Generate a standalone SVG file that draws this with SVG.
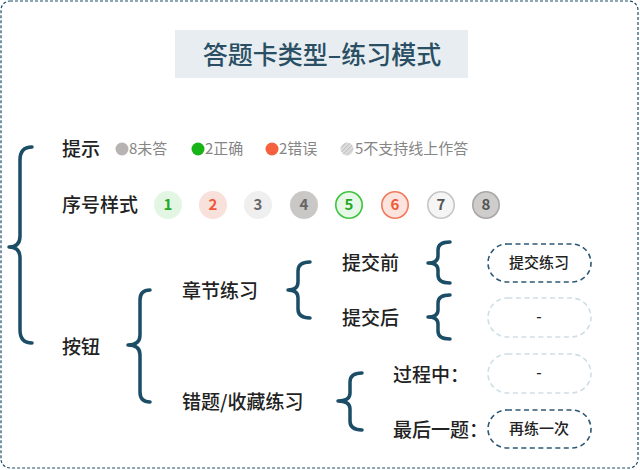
<svg xmlns="http://www.w3.org/2000/svg" width="640" height="470" viewBox="0 0 640 470">
<style>
.t{font-family:"Noto Sans CJK SC","Noto Sans",sans-serif;}
.lbl{font-size:19px;font-weight:500;fill:#222;}
.leg{font-size:15px;fill:#858585;}
.num{font-size:15px;font-weight:700;text-anchor:middle;}
.btn{font-size:15px;font-weight:500;fill:#222;text-anchor:middle;}
.brace{fill:none;stroke:#1c4d66;stroke-width:3.5;stroke-linecap:round;stroke-linejoin:round;}
.pill{fill:#fff;stroke:#2d5874;stroke-width:1.6;stroke-dasharray:5 3.5;}
.pill-l{fill:#fff;stroke:#cfdde5;stroke-width:1.6;stroke-dasharray:5 3.5;}
</style>
<defs>
<pattern id="hatch" patternUnits="userSpaceOnUse" width="3" height="3" patternTransform="rotate(45)">
<rect width="3" height="3" fill="#e6e6e6"/>
<rect width="1.5" height="3" fill="#c4c4c4"/>
</pattern>
</defs>
<rect x="1" y="1" width="637" height="467" rx="9" fill="#fff" stroke="#1d4e68" stroke-width="1.2" stroke-dasharray="3 2"/>
<g id="title">
<rect x="175" y="30" width="293" height="48" fill="#e7edf0"/>
<text class="t" x="322" y="63.5" font-size="25" font-weight="500" fill="#2a4f64" text-anchor="middle">答题卡类型–练习模式</text>
</g>
<g id="connectors">
<path class="brace" d="M32,147 Q20,147 20,160 L20,236 Q20,247 9,247 Q20,247 20,258 L20,330 Q20,343 32,343"/>
<path class="brace" d="M150,290 Q140,290 140,300 L140,335 Q140,345 128,345 Q140,345 140,355 L140,392 Q140,402 150,402"/>
<path class="brace" d="M310,262 Q298,262 298,271 L298,282 Q298,290 288,290 Q298,290 298,298 L298,309 Q298,318 310,318"/>
<path class="brace" d="M450,242 Q438,242 438,250 L438,256 Q438,263 428,263 Q438,263 438,270 L438,275 Q438,283 450,283"/>
<path class="brace" d="M450,295 Q438,295 438,303 L438,310 Q438,317 428,317 Q438,317 438,324 L438,331 Q438,339 450,339"/>
<path class="brace" d="M362,373 Q350,373 350,382 L350,393 Q350,401 338,401 Q350,401 350,409 L350,421 Q350,430 362,430"/>
</g>
<g id="tips">
<text class="t lbl" x="62" y="156">提示</text>
<circle cx="122" cy="149" r="6.5" fill="#b8b3b3"/>
<text class="t leg" x="129" y="154">8未答</text>
<circle cx="198" cy="149" r="6.5" fill="#17b317"/>
<text class="t leg" x="205" y="154">2正确</text>
<circle cx="272" cy="149" r="6.5" fill="#f5603e"/>
<text class="t leg" x="279" y="154">2错误</text>
<circle cx="347" cy="149" r="6.5" fill="url(#hatch)"/>
<text class="t leg" x="355" y="154">5不支持线上作答</text>
</g>
<g id="styles">
<text class="t lbl" x="62" y="212">序号样式</text>
<circle cx="168" cy="205" r="14" fill="#e3f6e3"/>
<text class="t num" x="168" y="210" fill="#25a825">1</text>
<circle cx="213" cy="205" r="14" fill="#f8e1da"/>
<text class="t num" x="213" y="210" fill="#f0583a">2</text>
<circle cx="258" cy="205" r="14" fill="#efefef"/>
<text class="t num" x="258" y="210" fill="#666">3</text>
<circle cx="304" cy="205" r="14" fill="#cac7c7"/>
<text class="t num" x="304" y="210" fill="#666">4</text>
<circle cx="349" cy="205" r="13.2" fill="#e8f8e8" stroke="#3cc43c" stroke-width="1.6"/>
<text class="t num" x="349" y="210" fill="#25a825">5</text>
<circle cx="395" cy="205" r="13.2" fill="#fbe4de" stroke="#f2795c" stroke-width="1.6"/>
<text class="t num" x="395" y="210" fill="#f0583a">6</text>
<circle cx="441" cy="205" r="13.2" fill="#f5f5f5" stroke="#c6c6c6" stroke-width="1.6"/>
<text class="t num" x="441" y="210" fill="#555">7</text>
<circle cx="486" cy="205" r="13.2" fill="#cfcccc" stroke="#a9a6a6" stroke-width="1.6"/>
<text class="t num" x="486" y="210" fill="#555">8</text>
</g>
<g id="buttons">
<text class="t lbl" x="62" y="354">按钮</text>
</g>
<g id="chapter">
<text class="t lbl" x="182" y="298">章节练习</text>
</g>
<g id="wrong">
<text class="t lbl" x="182" y="409">错题/收藏练习</text>
</g>
<g id="before">
<text class="t lbl" x="342" y="270">提交前</text>
<rect class="pill" x="488" y="244" width="103" height="38" rx="19"/>
<text class="t btn" x="539" y="268">提交练习</text>
</g>
<g id="after">
<text class="t lbl" x="342" y="325">提交后</text>
<rect class="pill-l" x="488" y="298" width="103" height="39" rx="19.5"/>
<text class="t btn" x="539" y="322">-</text>
</g>
<g id="during">
<text class="t lbl" x="393" y="382">过程中：</text>
<rect class="pill-l" x="488" y="354" width="103" height="39" rx="19.5"/>
<text class="t btn" x="539" y="378">-</text>
</g>
<g id="last">
<text class="t lbl" x="393" y="437">最后一题：</text>
<rect class="pill" x="488" y="410" width="103" height="38" rx="19"/>
<text class="t btn" x="539" y="434">再练一次</text>
</g>
</svg>
